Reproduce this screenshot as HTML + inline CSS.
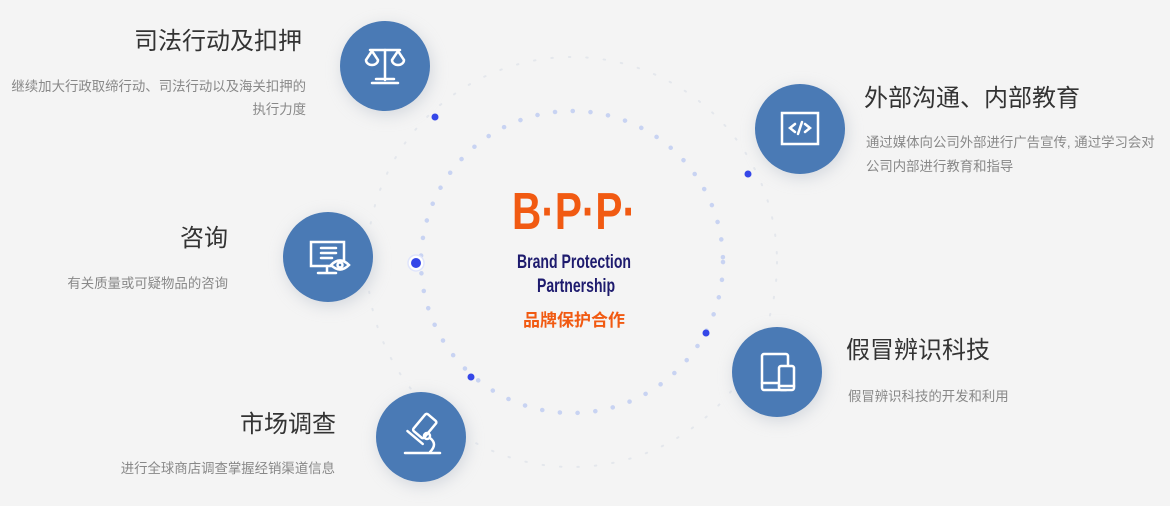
<!DOCTYPE html>
<html><head><meta charset="utf-8"><style>
html,body{margin:0;padding:0;background:#f4f4f4;}
svg{display:block}
.t{font-family:"Liberation Sans","Noto Sans CJK SC",sans-serif;}
</style></head><body>
<svg width="1170" height="506" viewBox="0 0 1170 506" xmlns="http://www.w3.org/2000/svg" class="t">
<defs>
<filter id="sh" x="-50%" y="-50%" width="200%" height="200%"><feGaussianBlur stdDeviation="8"/></filter>
</defs>
<rect width="1170" height="506" fill="#f4f4f4"/>
<circle cx="572" cy="262" r="205" fill="none" stroke="#e4e7ec" stroke-width="2" stroke-dasharray="1.5 16" stroke-linecap="round"/>
<circle cx="572" cy="262" r="151" fill="none" stroke="#c8d3f2" stroke-width="4.5" stroke-dasharray="0.1 17.7" stroke-linecap="round"/>
<circle cx="435" cy="117" r="3.5" fill="#3547e8"/>
<circle cx="748" cy="174" r="3.5" fill="#3547e8"/>
<circle cx="416" cy="263" r="8" fill="#ffffff" stroke="#dfe4fb" stroke-width="1.5"/>
<circle cx="416" cy="263" r="5" fill="#3547e8"/>
<circle cx="706" cy="333" r="3.5" fill="#3547e8"/>
<circle cx="471" cy="377" r="3.5" fill="#3547e8"/>
<text x="574" y="229" text-anchor="middle" font-weight="bold" font-size="52" fill="#f15a12" transform="translate(574 229) scale(0.78 1) translate(-574 -229)">B·P·P·</text>
<text x="574" y="268" text-anchor="middle" font-weight="bold" font-size="19" fill="#1e1b6e" transform="translate(574 268) scale(0.74 1) translate(-574 -268)">Brand Protection</text>
<text x="576" y="292" text-anchor="middle" font-weight="bold" font-size="19" fill="#1e1b6e" transform="translate(576 292) scale(0.74 1) translate(-576 -292)">Partnership</text>
<text x="574" y="326" text-anchor="middle" font-weight="bold" font-size="17" fill="#f15a12">品牌保护合作</text>

<g fill="#b8bfca" opacity="0.55" filter="url(#sh)">
<circle cx="387" cy="70" r="45"/><circle cx="802" cy="133" r="45"/><circle cx="330" cy="261" r="45"/><circle cx="779" cy="376" r="45"/><circle cx="423" cy="441" r="45"/>
</g>
<g fill="#4a7ab5">
<circle cx="385" cy="66" r="45"/><circle cx="800" cy="129" r="45"/><circle cx="328" cy="257" r="45"/><circle cx="777" cy="372" r="45"/><circle cx="421" cy="437" r="45"/>
</g>
<g stroke="#fff" stroke-width="2.5" fill="none" stroke-linecap="round">
 <line x1="385" y1="50" x2="385" y2="80"/><line x1="370" y1="50" x2="400" y2="50"/>
 <line x1="372" y1="83" x2="398" y2="83"/><line x1="376" y1="79" x2="394" y2="79"/>
 <path d="M366 60 l6 -9 l6 9 a6 5 0 0 1 -12 0 z"/><path d="M392 60 l6 -9 l6 9 a6 5 0 0 1 -12 0 z"/>
 <rect x="782" y="113" width="36" height="31"/>
 <path d="M795 124 l-5 4 l5 4 M805 124 l5 4 l-5 4 M802 122 l-4 12"/>
 <rect x="311" y="242" width="33" height="24"/>
 <line x1="327" y1="266" x2="327" y2="272"/><line x1="318" y1="273" x2="336" y2="273"/>
 <line x1="321" y1="248" x2="336" y2="248"/><line x1="321" y1="253" x2="336" y2="253"/><line x1="321" y1="258" x2="332" y2="258"/>
 <path d="M331 265 q9 -9 18 0 q-9 9 -18 0z" fill="#4a7ab5"/><circle cx="340" cy="265" r="2.5"/>
 <rect x="762" y="354" width="26" height="36" rx="2"/><line x1="762" y1="383" x2="788" y2="383"/>
 <rect x="779" y="366" width="15" height="24" rx="2" fill="#4a7ab5"/><line x1="779" y1="386" x2="794" y2="386"/>
 <g transform="rotate(40 421 432)"><rect x="413" y="414" width="14" height="22" rx="2"/><line x1="410" y1="440" x2="430" y2="440"/></g>
 <circle cx="427" cy="436" r="3" />
 <path d="M430 438 q8 6 0 14"/><line x1="405" y1="453" x2="440" y2="453"/>
</g>

<g fill="#333" font-size="24">
<text x="302" y="49" text-anchor="end">司法行动及扣押</text>
<text x="228" y="246" text-anchor="end">咨询</text>
<text x="336" y="432" text-anchor="end">市场调查</text>
<text x="864" y="106">外部沟通、内部教育</text>
<text x="846" y="358">假冒辨识科技</text>
</g>
<g fill="#888" font-size="13.4">
<text x="306" y="91" text-anchor="end">继续加大行政取缔行动、司法行动以及海关扣押的</text>
<text x="306" y="114" text-anchor="end">执行力度</text>
<text x="228" y="288" text-anchor="end">有关质量或可疑物品的咨询</text>
<text x="335" y="473" text-anchor="end">进行全球商店调查掌握经销渠道信息</text>
<text x="866" y="147">通过媒体向公司外部进行广告宣传, 通过学习会对</text>
<text x="866" y="171">公司内部进行教育和指导</text>
<text x="848" y="401">假冒辨识科技的开发和利用</text>
</g>
</svg>
</body></html>
